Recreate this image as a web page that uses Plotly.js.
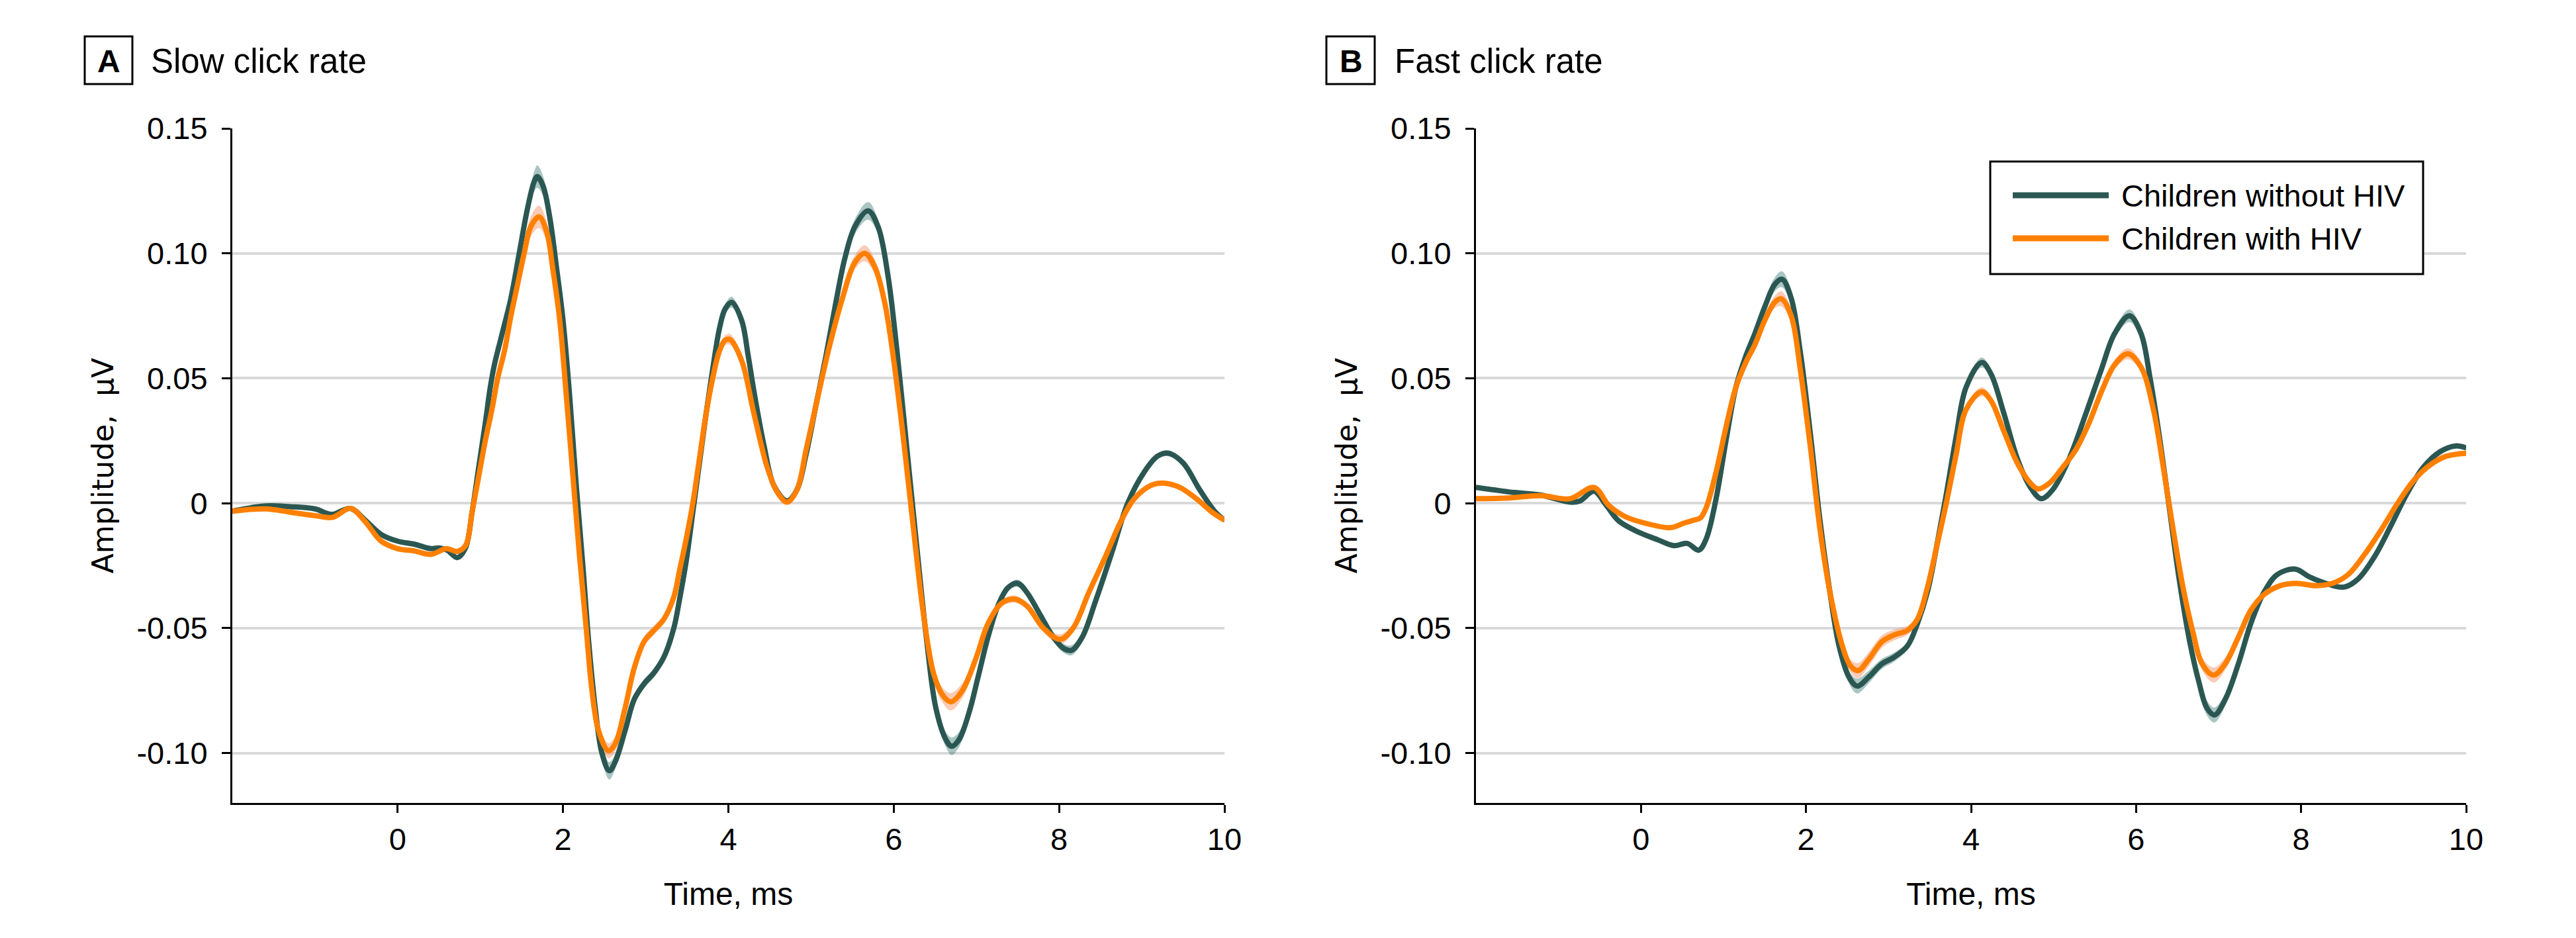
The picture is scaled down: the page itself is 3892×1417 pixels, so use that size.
<!DOCTYPE html>
<html>
<head>
<meta charset="utf-8">
<script src="https://cdn.plot.ly/plotly-3.0.1.min.js"></script>
<style>
html,body{margin:0;padding:0;background:#fff;}
#chart{width:3892px;height:1417px;}
</style>
</head>
<body>
<div id="chart"></div>
<script>
// ---------------- DATA ----------------
var panelTitles = ["Slow click rate", "Fast click rate"];
var panelLetters = ["A", "B"];
var seriesNames = ["Children without HIV", "Children with HIV"];
var xTickVals = [0, 2, 4, 6, 8, 10];
var yTickVals = [0.15, 0.10, 0.05, 0, -0.05, -0.10];
var yTickText = ["0.15", "0.10", "0.05", "0", "-0.05", "-0.10"];

// Panel A (slow click rate) - children without HIV
var tA_without = [-2.0,-1.6,-1.3,-1.0,-0.8,-0.57,-0.4,-0.2,0.0,0.2,0.4,0.5,0.6,0.72,0.82,0.9,0.98,1.06,1.12,1.17,1.25,1.37,1.47,1.57,1.65,1.69,1.76,1.84,1.92,2.0,2.08,2.16,2.24,2.31,2.39,2.47,2.56,2.63,2.75,2.86,2.98,3.1,3.22,3.34,3.41,3.49,3.57,3.65,3.73,3.81,3.89,3.96,4.04,4.16,4.24,4.31,4.43,4.55,4.71,4.83,4.94,5.06,5.18,5.3,5.41,5.53,5.69,5.81,5.93,6.04,6.16,6.28,6.4,6.51,6.63,6.7,6.79,6.91,7.02,7.14,7.26,7.38,7.5,7.61,7.77,7.93,8.05,8.15,8.28,8.44,8.64,8.83,9.03,9.19,9.32,9.5,9.7,9.89,10.0];
var yA_without = [-0.0032,-0.0011,-0.0014,-0.0023,-0.0045,-0.0021,-0.0066,-0.0125,-0.0152,-0.0164,-0.0182,-0.0179,-0.0188,-0.0218,-0.0179,-0.0036,0.0143,0.0321,0.0464,0.0554,0.0661,0.0821,0.100,0.1179,0.1286,0.1307,0.1268,0.1143,0.0946,0.0732,0.0429,0.0071,-0.025,-0.0554,-0.0821,-0.100,-0.1071,-0.1036,-0.0911,-0.0786,-0.0723,-0.0679,-0.0616,-0.05,-0.0384,-0.0232,-0.0036,0.0161,0.0357,0.0536,0.0696,0.0777,0.0804,0.0732,0.0589,0.0446,0.0232,0.0071,0.0009,0.0054,0.0196,0.0393,0.0589,0.0804,0.0982,0.1107,0.117,0.1107,0.0911,0.0607,0.0214,-0.0179,-0.0554,-0.0821,-0.0946,-0.0973,-0.0946,-0.0839,-0.0696,-0.0536,-0.0411,-0.0339,-0.0321,-0.0357,-0.0446,-0.0536,-0.058,-0.0589,-0.0536,-0.0393,-0.0196,0.0,0.0125,0.0188,0.02,0.0161,0.0054,-0.0036,-0.0068];
var seA_without = [0.0008,0.0008,0.0008,0.0008,0.0008,0.0008,0.0008,0.0008,0.0008,0.0008,0.0008,0.0008,0.0008,0.0008,0.0008,
  0.001,0.0012,0.0015,0.0018,0.002, 0.0022,0.0025,0.003,0.0035,0.004, 0.0045,0.004,0.0035,0.003,0.0025,
  0.002,0.002,0.002,0.0022,0.0025, 0.003,0.0035,0.003,0.0025,0.002, 0.0018,0.0018,0.0015,0.0012,0.001,
  0.001,0.001,0.0012,0.0014,0.0016, 0.0018,0.002,0.0022,0.002,0.0018, 0.0015,0.0012,0.001,0.001,0.001,
  0.0012,0.0015,0.0018,0.002,0.0025, 0.003,0.0035,0.003,0.0025,0.002, 0.0018,0.0018,0.002,0.0025,0.003,
  0.0035,0.003,0.0025,0.002,0.0015, 0.0012,0.0012,0.0015,0.0012,0.0012, 0.0015,0.0018,0.002,0.0018,0.0012,
  0.001,0.001,0.001,0.001,0.0012, 0.001,0.001,0.001,0.001];

// Panel A - children with HIV
var tA_with = [-2.0,-1.6,-1.3,-1.0,-0.79,-0.57,-0.4,-0.2,0.0,0.2,0.4,0.59,0.72,0.82,0.9,0.98,1.06,1.14,1.21,1.29,1.37,1.45,1.53,1.61,1.71,1.8,1.88,1.96,2.04,2.12,2.2,2.28,2.35,2.43,2.55,2.63,2.75,2.86,2.98,3.1,3.22,3.34,3.41,3.49,3.57,3.65,3.73,3.81,3.89,3.96,4.02,4.16,4.31,4.47,4.59,4.71,4.83,4.94,5.06,5.22,5.38,5.53,5.65,5.77,5.89,6.0,6.12,6.24,6.36,6.48,6.59,6.69,6.83,6.99,7.14,7.3,7.46,7.61,7.81,8.01,8.17,8.36,8.56,8.75,8.91,9.11,9.27,9.46,9.66,9.85,10.0];
var yA_with = [-0.0032,-0.0023,-0.0036,-0.005,-0.0057,-0.0021,-0.0071,-0.0152,-0.0182,-0.0191,-0.0205,-0.0182,-0.0193,-0.017,-0.0036,0.0107,0.025,0.0375,0.05,0.0607,0.075,0.0875,0.1,0.1107,0.1146,0.1089,0.0929,0.0732,0.0429,0.0107,-0.0214,-0.05,-0.075,-0.0911,-0.0991,-0.0964,-0.0821,-0.0661,-0.0554,-0.0509,-0.0464,-0.0375,-0.0268,-0.0143,0.0,0.0179,0.0357,0.05,0.0607,0.0652,0.0655,0.0571,0.0357,0.0143,0.0045,0.0004,0.0054,0.0214,0.0393,0.0625,0.0821,0.0964,0.1,0.0946,0.0804,0.0571,0.025,-0.0107,-0.0446,-0.0679,-0.0768,-0.0795,-0.075,-0.0625,-0.0482,-0.0402,-0.0384,-0.0411,-0.05,-0.0545,-0.05,-0.0357,-0.0214,-0.0071,0.0018,0.0071,0.008,0.0063,0.0018,-0.0036,-0.0068];
var seA_with = [0.0008,0.0008,0.0008,0.0008,0.0008,0.0008,0.0008,0.0008,0.0008,0.0008,0.0008,0.0008,0.0008,0.0008,
  0.001,0.0012,0.0015,0.0018,0.002,0.0022, 0.0025,0.003,0.0035,0.004,0.0045, 0.004,0.0035,0.003,0.0025,0.002,
  0.002,0.002,0.0022,0.0025,0.003, 0.003,0.0025,0.0022,0.002,0.0018, 0.0015,0.0012,0.001,0.001,0.001,
  0.0012,0.0014,0.0016,0.0018,0.002, 0.0022,0.002,0.0015,0.0012,0.001, 0.001,0.001,0.0012,0.0015,0.0018,
  0.0022,0.0028,0.0032,0.003,0.0025, 0.002,0.0018,0.0018,0.002,0.0025, 0.003,0.0035,0.003,0.0022,0.0015,
  0.0012,0.0015,0.0012,0.0015,0.002, 0.0018,0.0012,0.001,0.001,0.001, 0.001,0.001,0.001,0.001,0.001,0.001];

// Panel B (fast click rate) - children without HIV
var tB_without = [-2.0,-1.6,-1.21,-0.86,-0.74,-0.57,-0.42,-0.27,-0.03,0.2,0.4,0.56,0.7,0.79,0.91,1.03,1.15,1.27,1.38,1.5,1.62,1.71,1.82,1.93,2.05,2.17,2.29,2.4,2.52,2.62,2.76,2.92,3.07,3.23,3.35,3.47,3.58,3.7,3.82,3.94,4.13,4.24,4.4,4.56,4.72,4.85,4.99,5.19,5.39,5.58,5.74,5.92,6.06,6.17,6.29,6.41,6.53,6.65,6.76,6.86,6.95,7.08,7.24,7.39,7.55,7.71,7.93,8.1,8.3,8.52,8.69,8.89,9.09,9.28,9.48,9.68,9.87,10.0];
var yB_without = [0.0063,0.0045,0.0032,0.0004,0.0009,0.0048,-0.0009,-0.0071,-0.0116,-0.0146,-0.017,-0.0161,-0.0188,-0.0143,0.0018,0.025,0.0464,0.0589,0.0679,0.0786,0.0875,0.0896,0.0821,0.0607,0.0286,-0.0071,-0.0357,-0.0571,-0.0696,-0.0732,-0.0696,-0.0643,-0.0616,-0.0571,-0.0482,-0.0357,-0.0179,0.0036,0.0268,0.0464,0.0563,0.0518,0.0357,0.0179,0.0063,0.0018,0.0054,0.0179,0.0357,0.0536,0.0679,0.075,0.0679,0.05,0.025,-0.0036,-0.0321,-0.0554,-0.0714,-0.0821,-0.0848,-0.0786,-0.0643,-0.0482,-0.0357,-0.0286,-0.0264,-0.0295,-0.0321,-0.0336,-0.0304,-0.0214,-0.0089,0.0036,0.0143,0.0205,0.0229,0.0221];
var seB_without = [0.0008,0.0008,0.0008,0.0008,0.0008,0.0008,0.0008,0.0008,0.0008,0.0008,0.0008,0.0008,0.0008,0.0008,
  0.001,0.0012,0.0015,0.0018,0.002,0.0022, 0.0028,0.0032,0.003,0.0025,0.002, 0.0018,0.0018,0.002,0.0025,0.003,
  0.0025,0.002,0.0018,0.0015,0.0012, 0.001,0.001,0.0012,0.0014,0.0016, 0.002,0.0018,0.0014,0.0012,0.001,
  0.001,0.001,0.0012,0.0015,0.0018, 0.002,0.0025,0.0022,0.002,0.0018, 0.0018,0.002,0.0022,0.0025,0.003,
  0.003,0.0025,0.002,0.0015,0.0012, 0.001,0.001,0.001,0.001,0.001, 0.001,0.001,0.001,0.001,0.001,0.001,0.001,0.001];

// Panel B - children with HIV
var tB_with = [-2.0,-1.6,-1.21,-0.86,-0.57,-0.39,-0.19,0.05,0.36,0.52,0.64,0.72,0.79,0.91,1.03,1.15,1.27,1.38,1.5,1.62,1.7,1.82,1.93,2.05,2.17,2.29,2.44,2.54,2.63,2.76,2.92,3.07,3.23,3.35,3.47,3.58,3.7,3.82,3.94,4.13,4.24,4.4,4.56,4.72,4.81,4.95,5.11,5.27,5.43,5.58,5.74,5.9,6.06,6.21,6.33,6.45,6.57,6.69,6.8,6.94,7.08,7.24,7.39,7.55,7.75,7.94,8.18,8.38,8.57,8.77,8.97,9.17,9.36,9.56,9.76,10.0];
var yB_with = [0.0018,0.0021,0.003,0.0018,0.0063,-0.0009,-0.0054,-0.008,-0.0098,-0.008,-0.0068,-0.0059,-0.0018,0.0125,0.0304,0.0464,0.0563,0.0634,0.0732,0.0804,0.0818,0.075,0.0536,0.0232,-0.0107,-0.0357,-0.0571,-0.0652,-0.067,-0.0625,-0.0554,-0.0527,-0.0509,-0.0464,-0.0339,-0.0179,0.0,0.0196,0.0375,0.0446,0.0411,0.0286,0.0161,0.008,0.0057,0.008,0.0143,0.0214,0.0321,0.0446,0.0554,0.0598,0.0545,0.0375,0.0143,-0.0107,-0.0339,-0.0518,-0.0643,-0.0688,-0.0643,-0.0536,-0.0429,-0.0366,-0.033,-0.0321,-0.033,-0.0321,-0.0286,-0.0205,-0.0107,0.0,0.0089,0.0152,0.0188,0.02];
var seB_with = [0.0008,0.0008,0.0008,0.0008,0.0008,0.0008,0.0008,0.0008,0.0008,0.0008,0.0008,0.0008,0.0008,
  0.001,0.0012,0.0014,0.0016,0.0018,0.002,0.0025, 0.003,0.0028,0.0024,0.002,0.0018, 0.0018,0.002,0.0025,0.003,0.0028,
  0.0025,0.0022,0.0018,0.0015,0.0012, 0.001,0.001,0.0012,0.0014,0.0018, 0.0016,0.0012,0.001,0.001,0.001,
  0.001,0.001,0.0012,0.0014,0.0016, 0.0018,0.0022,0.002,0.0018,0.0016, 0.0016,0.0018,0.002,0.0025,0.003,
  0.0025,0.002,0.0015,0.0012,0.001, 0.001,0.001,0.001,0.001,0.001,0.001,0.001,0.001,0.001,0.001,0.001];

// ---------------- STYLE ----------------
var tealLine = "#2b5752", tealBand = "rgba(43,110,103,0.40)";
var orangeLine = "#ff8000", orangeBand = "rgba(245,140,90,0.45)";
var sans = "Liberation Sans, Arial, sans-serif";

function band(t, y, se, color, xa, ya) {
  var up = y.map(function(v, i){ return v + se[i]; });
  var lo = y.map(function(v, i){ return v - se[i]; });
  return [
    {x: t, y: up, xaxis: xa, yaxis: ya, mode: "lines", line: {width: 0, shape: "spline", smoothing: 1}, hoverinfo: "skip", showlegend: false},
    {x: t, y: lo, xaxis: xa, yaxis: ya, mode: "lines", line: {width: 0, shape: "spline", smoothing: 1}, fill: "tonexty", fillcolor: color, hoverinfo: "skip", showlegend: false}
  ];
}
function line(t, y, color, name, xa, ya) {
  return {x: t, y: y, xaxis: xa, yaxis: ya, mode: "lines", name: name, line: {color: color, width: 8, shape: "spline", smoothing: 1}, showlegend: false};
}

var traces = [].concat(
  band(tA_without, yA_without, seA_without, tealBand, "x", "y"),
  band(tA_with, yA_with, seA_with, orangeBand, "x", "y"),
  band(tB_without, yB_without, seB_without, tealBand, "x2", "y2"),
  band(tB_with, yB_with, seB_with, orangeBand, "x2", "y2"),
  [line(tA_without, yA_without, tealLine, seriesNames[0], "x", "y"),
   line(tA_with, yA_with, orangeLine, seriesNames[1], "x", "y"),
   line(tB_without, yB_without, tealLine, seriesNames[0], "x2", "y2"),
   line(tB_with, yB_with, orangeLine, seriesNames[1], "x2", "y2")]
);

var W = 3892, H = 1417;
function px(x){ return x / W; }
function py(y){ return 1 - y / H; }

function xax(dom) {
  return {domain: dom, range: [-2, 10], tickvals: xTickVals, ticks: "outside", ticklen: 12, tickwidth: 3, tickcolor: "#000",
    showline: true, linewidth: 3, linecolor: "#000", showgrid: false, zeroline: false,
    tickfont: {family: sans, size: 47, color: "#000"},
    title: {text: "Time, ms", font: {family: sans, size: 48, color: "#000"}, standoff: 40}};
}
function yax(anchor) {
  return {domain: [py(1213), py(194)], range: [-0.12, 0.15], tickvals: yTickVals, ticktext: yTickText, anchor: anchor,
    ticks: "outside", ticklen: 13, tickwidth: 3, tickcolor: "#000", ticklabelstandoff: 12,
    showline: true, linewidth: 3, linecolor: "#000", showgrid: true, gridcolor: "#d9d9d9", gridwidth: 4, zeroline: false,
    tickfont: {family: sans, size: 47, color: "#000"},
    title: {text: "Amplitude,\u00a0 μV", font: {family: "DejaVu Sans, sans-serif", size: 44, color: "#000"}, standoff: 22}};
}

var xA = xax([px(351), px(1850)]); xA.anchor = "y";
var xB = xax([px(2230), px(3726)]); xB.anchor = "y2";

var shapes = [
  {type: "rect", xref: "paper", yref: "paper", x0: px(128), x1: px(200), y0: py(127), y1: py(55), line: {color: "#000", width: 3}},
  {type: "rect", xref: "paper", yref: "paper", x0: px(2004), x1: px(2077), y0: py(127), y1: py(55), line: {color: "#000", width: 3}},
  {type: "rect", xref: "paper", yref: "paper", x0: px(3007), x1: px(3661), y0: py(414), y1: py(244), line: {color: "#000", width: 3}, fillcolor: "#fff", layer: "above"},
  {type: "line", xref: "paper", yref: "paper", x0: px(3041), x1: px(3186), y0: py(295), y1: py(295), line: {color: tealLine, width: 9}, layer: "above"},
  {type: "line", xref: "paper", yref: "paper", x0: px(3041), x1: px(3186), y0: py(360), y1: py(360), line: {color: orangeLine, width: 9}, layer: "above"}
];

var annotations = [
  {xref: "paper", yref: "paper", x: px(164), y: py(92), text: "<b>" + panelLetters[0] + "</b>", showarrow: false, xanchor: "center", yanchor: "middle", font: {family: sans, size: 48, color: "#000"}},
  {xref: "paper", yref: "paper", x: px(2041), y: py(92), text: "<b>" + panelLetters[1] + "</b>", showarrow: false, xanchor: "center", yanchor: "middle", font: {family: sans, size: 48, color: "#000"}},
  {xref: "paper", yref: "paper", x: px(226), y: py(92), text: panelTitles[0], showarrow: false, xanchor: "left", yanchor: "middle", font: {family: sans, size: 51, color: "#000"}},
  {xref: "paper", yref: "paper", x: px(2105), y: py(92), text: panelTitles[1], showarrow: false, xanchor: "left", yanchor: "middle", font: {family: sans, size: 51, color: "#000"}},
  {xref: "paper", yref: "paper", x: px(3203), y: py(295), text: seriesNames[0], showarrow: false, xanchor: "left", yanchor: "middle", font: {family: sans, size: 47, color: "#000"}},
  {xref: "paper", yref: "paper", x: px(3203), y: py(360), text: seriesNames[1], showarrow: false, xanchor: "left", yanchor: "middle", font: {family: sans, size: 47, color: "#000"}}
];

var layout = {
  width: W, height: H,
  margin: {l: 0, r: 0, t: 0, b: 0},
  paper_bgcolor: "#fff", plot_bgcolor: "#fff",
  showlegend: false,
  xaxis: xA, yaxis: yax("x"),
  xaxis2: xB, yaxis2: yax("x2"),
  shapes: shapes,
  annotations: annotations
};

Plotly.newPlot("chart", traces, layout, {staticPlot: true, displayModeBar: false});
</script>
</body>
</html>
